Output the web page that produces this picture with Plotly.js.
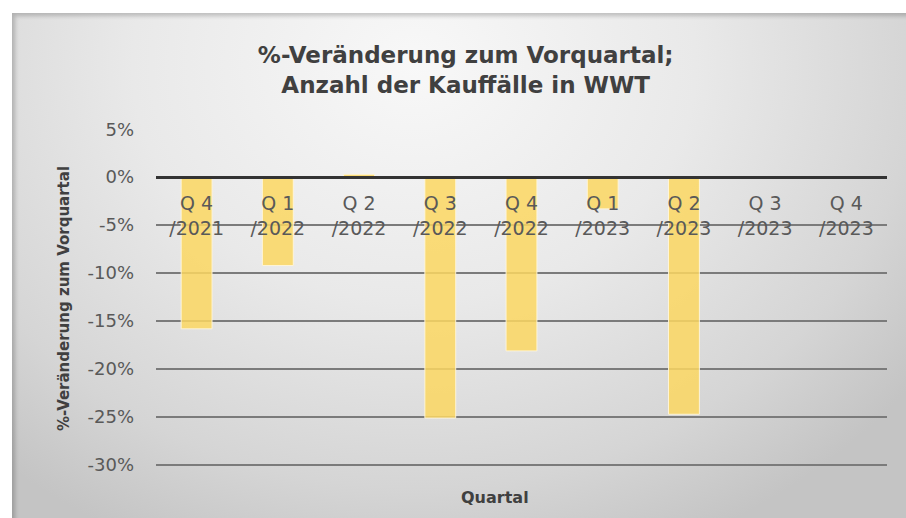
<!DOCTYPE html>
<html>
<head>
<meta charset="utf-8">
<script src="https://cdn.plot.ly/plotly-3.0.1.min.js"></script>
<style>
  html, body { margin: 0; padding: 0; background: #ffffff; }
  #wrap { position: relative; width: 906px; height: 518px; background: #ffffff; overflow: hidden; }
  #bg {
    position: absolute; left: 12px; top: 13px; right: 0; bottom: 0;
    background: radial-gradient(ellipse 70% 105% at 45% 10%, #f8f8f8 0%, #e9e9e9 45%, #d5d5d5 80%, #c4c4c4 100%);
    box-shadow: inset 5px 5px 4px -2px rgba(0,0,0,0.20);
  }
  #chart { position: absolute; left: 0; top: 0; width: 906px; height: 518px; }
</style>
</head>
<body>
<div id="wrap">
  <div id="bg"></div>
  <div id="chart"></div>
</div>
<script>
// ---- data ----
const quarters = ['Q 4', 'Q 1', 'Q 2', 'Q 3', 'Q 4', 'Q 1', 'Q 2', 'Q 3', 'Q 4'];
const years    = ['2021', '2022', '2022', '2022', '2022', '2023', '2023', '2023', '2023'];
const changePct = [-15.8, -9.2, 0.3, -25.1, -18.1, -3.3, -24.7, 0, 0];
const yTickVals = [5, 0, -5, -10, -15, -20, -25, -30];
const yTickText = ['5%', '0%', '-5%', '-10%', '-15%', '-20%', '-25%', '-30%'];
const yRange = [-30.3, 5.02];

const categories = quarters.map((q, i) => q + ' /' + years[i]);
const catLabels  = quarters.map((q, i) => q + '<br>/' + years[i]);

const trace = {
  type: 'bar',
  x: categories,
  y: changePct,
  marker: {
    color: 'rgba(252,215,98,0.85)',
    line: { color: 'rgba(255,246,220,0.9)', width: 1 }
  },
  hoverinfo: 'skip'
};

const zeroPos = (0 - yRange[0]) / (yRange[1] - yRange[0]);

const layout = {
  width: 906,
  height: 518,
  margin: { l: 156, r: 19, t: 129, b: 50, pad: 0 },
  paper_bgcolor: 'rgba(0,0,0,0)',
  plot_bgcolor: 'rgba(0,0,0,0)',
  showlegend: false,
  bargap: 0.62,
  title: {
    text: '%-Veränderung zum Vorquartal;<br>Anzahl der Kauffälle in WWT',
    font: { family: 'DejaVu Sans', size: 23, color: '#404040', weight: 'bold' },
    x: 0.514, xanchor: 'center',
    y: 1 - 63 / 518, yanchor: 'middle', yref: 'container'
  },
  xaxis: {
    type: 'category',
    anchor: 'free',
    position: zeroPos,
    tickmode: 'array',
    tickvals: categories,
    ticktext: catLabels,
    showgrid: false,
    zeroline: false,
    showline: true,
    linecolor: '#333333',
    linewidth: 3,
    ticks: '',
    ticklabelstandoff: 8,
    tickfont: { family: 'DejaVu Sans', size: 19, color: '#595959' },
    layer: 'above traces',
    fixedrange: true
  },
  yaxis: {
    range: yRange,
    tickmode: 'array',
    tickvals: yTickVals,
    ticktext: yTickText,
    showgrid: true,
    gridcolor: '#7b7b7b',
    gridwidth: 2,
    zeroline: false,
    showline: false,
    ticks: '',
    ticklabelstandoff: 21,
    tickfont: { family: 'DejaVu Sans', size: 18, color: '#595959' },
    automargin: true,
    title: {
      text: '%-Veränderung zum Vorquartal',
      standoff: 14,
      font: { family: 'DejaVu Sans', size: 15, color: '#404040', weight: 'bold' }
    },
    fixedrange: true
  },
  annotations: [{
    text: 'Quartal',
    xref: 'paper', yref: 'paper',
    x: (495 - 156) / 731, y: (468 - 497) / 339,
    xanchor: 'center', yanchor: 'middle',
    showarrow: false,
    font: { family: 'DejaVu Sans', size: 16, color: '#404040', weight: 'bold' }
  }]
};

Plotly.newPlot('chart', [trace], layout, { displayModeBar: false, staticPlot: true });
</script>
</body>
</html>
